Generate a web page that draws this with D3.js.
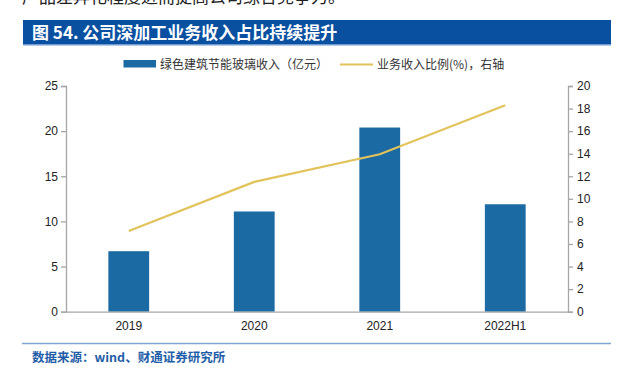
<!DOCTYPE html>
<html><head><meta charset="utf-8">
<script src="https://cdn.jsdelivr.net/npm/d3@7"></script>
<style>
body{margin:0;background:#fff;}
svg{display:block;}
</style></head>
<body>
<svg id="c" width="624" height="371"></svg>
<script>
const categories = ["2019","2020","2021","2022H1"];
const revenue = [6.7, 11.1, 20.4, 11.9];     // 绿色建筑节能玻璃收入（亿元）
const ratio = [7.15, 11.5, 13.95, 18.3];     // 业务收入比例(%)
const leftTicks = [0,5,10,15,20,25];
const rightTicks = [0,2,4,6,8,10,12,14,16,18,20];
const seriesNames = ["绿色建筑节能玻璃收入（亿元）","业务收入比例(%)，右轴"];
const titleText = "图 54. 公司深加工业务收入占比持续提升";
const topText = "产品差异化程度进而提高公司综合竞争力。";
const sourceText = "数据来源：wind、财通证券研究所";

const svg = d3.select("#c");
const sans = "'Liberation Sans', Arial, 'Noto Sans CJK SC', sans-serif";
const cjk = "'Noto Sans CJK SC', sans-serif";

// cut-off text from previous paragraph
svg.append("text").attr("x",22).attr("y",3).attr("font-family",cjk).attr("font-size",17)
  .attr("fill","#222").text(topText);

// title bar
svg.append("rect").attr("x",23).attr("y",20).attr("width",588).attr("height",24).attr("fill","#0a50a1");
svg.append("rect").attr("x",23).attr("y",44).attr("width",588).attr("height",1.5).attr("fill","#6f9bd0");
svg.append("text").attr("x",32).attr("y",38.5).attr("font-family",cjk).attr("font-size",17)
  .attr("font-weight","bold").attr("fill","#fff").text(titleText);

const x0 = 66, x1 = 568, yB = 311.7, yT = 86;
const x = d3.scaleBand().domain(categories).range([x0,x1]).paddingInner(0).paddingOuter(0);
const yL = d3.scaleLinear().domain([0,25]).range([yB,yT]);
const yR = d3.scaleLinear().domain([0,20]).range([yB,yT]);
const barW = x.bandwidth()*0.325;
const axisColor = "#a6a6a6";

// bars
svg.append("g").selectAll("rect").data(categories).join("rect")
  .attr("x",d=>x(d)+x.bandwidth()/2-barW/2)
  .attr("y",(d,i)=>yL(revenue[i]))
  .attr("width",barW)
  .attr("height",(d,i)=>yB-yL(revenue[i]))
  .attr("fill","#1c6aa4");

// axes
function styleAxis(g){
  g.selectAll(".domain").attr("stroke",axisColor).attr("stroke-width",1.3);
  g.selectAll(".tick line").attr("stroke",axisColor).attr("stroke-width",1.3);
  g.selectAll("text").attr("font-family",sans).attr("font-size",12).attr("fill","#222");
}
const gL = svg.append("g").attr("transform",`translate(${x0},0)`)
  .call(d3.axisLeft(yL).tickValues(leftTicks).tickSize(5).tickPadding(3).tickSizeOuter(5));
styleAxis(gL);
const gR = svg.append("g").attr("transform",`translate(${x1},0)`)
  .call(d3.axisRight(yR).tickValues(rightTicks).tickSize(5).tickPadding(4).tickSizeOuter(5));
styleAxis(gR);
const gB = svg.append("g").attr("transform",`translate(0,${yB})`)
  .call(d3.axisBottom(x).tickSize(0).tickPadding(10));
styleAxis(gB);

// line
const line = d3.line().x((d,i)=>x(categories[i])+x.bandwidth()/2).y(d=>yR(d));
svg.append("path").datum(ratio).attr("d",line).attr("fill","none")
  .attr("stroke","#e2c35b").attr("stroke-width",2.2);

// legend
const lg = svg.append("g");
lg.append("rect").attr("x",123.5).attr("y",60).attr("width",32.5).attr("height",7.5).attr("fill","#1c6aa4");
lg.append("text").attr("x",160).attr("y",68.5).attr("font-family",cjk).attr("font-size",12)
  .attr("fill","#333").text(seriesNames[0]);
lg.append("line").attr("x1",340).attr("x2",373).attr("y1",64.5).attr("y2",64.5)
  .attr("stroke","#e2c35b").attr("stroke-width",2.2);
lg.append("text").attr("x",377).attr("y",68.5).attr("font-family",cjk).attr("font-size",12)
  .attr("fill","#333").text(seriesNames[1]);

// bottom rule and source
svg.append("line").attr("x1",22).attr("x2",611).attr("y1",343.5).attr("y2",343.5)
  .attr("stroke","#7fa7d4").attr("stroke-width",1.5);
svg.append("text").attr("x",32).attr("y",362).attr("font-family",cjk).attr("font-size",12.5)
  .attr("font-weight","bold").attr("fill","#1f5ea8").text(sourceText);
</script>
</body></html>
